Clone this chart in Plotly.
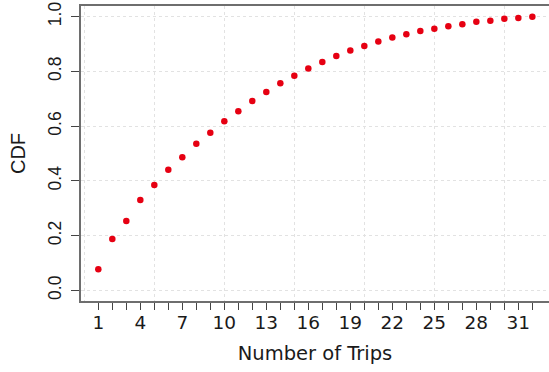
import plotly.graph_objects as go

# Empirical CDF of the number of trips per user
trips = list(range(1, 33))
cdf = [0.077, 0.188, 0.253, 0.330, 0.385, 0.441, 0.486, 0.536, 0.576, 0.618,
       0.654, 0.692, 0.725, 0.757, 0.784, 0.811, 0.834, 0.856, 0.876, 0.893,
       0.909, 0.924, 0.936, 0.948, 0.956, 0.965, 0.972, 0.981, 0.985, 0.992,
       0.995, 1.000]

x_tick_labels = [str(v) if (v - 1) % 3 == 0 else "" for v in trips]
y_ticks = [0.0, 0.2, 0.4, 0.6, 0.8, 1.0]
x_grid = [0, 5, 10, 15, 20, 25, 30]

WIDE_FONT = "DejaVu Sans, sans-serif"
SANS_FONT = "Liberation Sans, Arial, sans-serif"
TEXT_COLOR = "#1a1a1a"
AXIS_COLOR = "#6e6e6e"
GRID_COLOR = "#e2e2e2"

x_range = [-0.236, 33.19]
y_range = [-0.039, 1.039]

fig = go.Figure()
fig.add_trace(go.Scatter(
    x=trips, y=cdf, mode="markers",
    marker=dict(color="#e60012", size=6.5, line=dict(width=0)),
    showlegend=False,
))

fig.update_layout(
    width=549, height=372,
    margin=dict(l=81, r=0, t=6, b=71),
    paper_bgcolor="white", plot_bgcolor="white",
    font=dict(family=WIDE_FONT, size=18, color=TEXT_COLOR),
    xaxis=dict(
        range=x_range, tickmode="array", tickvals=trips, ticktext=x_tick_labels,
        ticks="outside", ticklen=7, tickwidth=1.2, tickcolor="#444444",
        ticklabelstandoff=-3,
        showgrid=False, zeroline=False,
        showline=True, linecolor=AXIS_COLOR, linewidth=2, mirror=True,
        tickfont=dict(family=WIDE_FONT, size=18.5, color=TEXT_COLOR),
        title=dict(text="Number of Trips",
                   font=dict(family=WIDE_FONT, size=19.5, color=TEXT_COLOR),
                   standoff=14),
    ),
    xaxis2=dict(
        range=x_range, overlaying="x", tickmode="array", tickvals=x_grid,
        showticklabels=False, ticks="", showgrid=True, gridcolor=GRID_COLOR,
        griddash="dot", gridwidth=1, zeroline=False, showline=False,
    ),
    yaxis=dict(
        range=y_range, tickmode="array", tickvals=y_ticks,
        ticktext=[f"{v:.1f}" for v in y_ticks], tickangle=-90,
        ticks="outside", ticklen=8, tickwidth=1.2, tickcolor="#444444",
        ticklabelstandoff=3, ticklabeloverflow="allow",
        showgrid=True, gridcolor=GRID_COLOR, griddash="dot", gridwidth=1,
        zeroline=False, showline=True, linecolor=AXIS_COLOR, linewidth=2,
        tickfont=dict(family=SANS_FONT, size=17.5, color=TEXT_COLOR),
        title=dict(text="CDF",
                   font=dict(family=SANS_FONT, size=20, color=TEXT_COLOR),
                   standoff=14),
    ),
)
# Invisible trace to activate the overlaying grid axis
fig.add_trace(go.Scatter(x=[None], y=[None], xaxis="x2", showlegend=False,
                         hoverinfo="skip"))

fig.write_html("out.html")
